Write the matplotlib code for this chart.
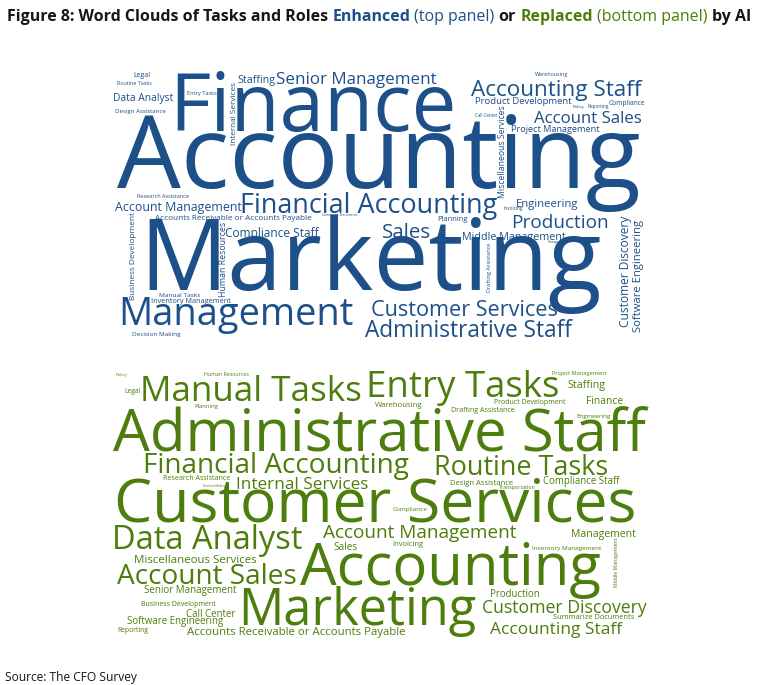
import matplotlib
matplotlib.use("Agg")
import matplotlib.pyplot as plt

BLUE = "#1d4f88"
GREEN = "#4d7d0c"
FONT = "Open Sans"

# word weights (relative size of each term in the cloud)
top_words = ["Accounting", "Marketing", "Finance", "Management", "Financial Accounting",
             "Accounting Staff", "Administrative Staff", "Customer Services", "Senior Management",
             "Production", "Sales", "Account Sales", "Account Management", "Customer Discovery",
             "Software Engineering", "Compliance Staff", "Data Analyst", "Engineering",
             "Middle Management", "Product Development", "Project Management", "Internal Services",
             "Staffing", "Miscellaneous Services", "Business Development", "Human Resources",
             "Accounts Receivable or Accounts Payable", "Manual Tasks", "Inventory Management",
             "Decision Making", "Research Assistance", "Legal", "Routine Tasks", "Design Assistance",
             "Entry Tasks", "Warehousing", "Compliance", "Policy", "Reporting", "Call Center",
             "Invoicing", "Planning", "Transportation", "Drafting Assistance", "Summarize Documents"]
top_weights = [101, 98, 80, 38, 27,
               22.5, 22.6, 21.6, 17,
               19, 20.5, 16.8, 12.4, 12,
               11.3, 11.9, 10.2, 11.2,
               10.8, 9.5, 9.1, 8.2,
               10.7, 8.7, 8.3, 8.8,
               8.1, 6.5, 7.3,
               6.4, 5.5, 7, 5.4, 6.2,
               5.7, 5.4, 6.7, 4.4, 4.8, 4.5,
               4.8, 7.5, 3.3, 5.5, 3.2]

bottom_words = ["Administrative Staff", "Customer Services", "Accounting", "Marketing",
                "Manual Tasks", "Entry Tasks", "Data Analyst", "Financial Accounting",
                "Routine Tasks", "Account Sales", "Account Management", "Internal Services",
                "Customer Discovery", "Accounting Staff", "Accounts Receivable or Accounts Payable",
                "Staffing", "Finance", "Compliance Staff", "Management", "Miscellaneous Services",
                "Senior Management", "Call Center", "Software Engineering", "Production", "Sales",
                "Business Development", "Reporting", "Summarize Documents", "Product Development",
                "Warehousing", "Drafting Assistance", "Engineering", "Project Management",
                "Design Assistance", "Transportation", "Compliance", "Invoicing",
                "Inventory Management", "Middle Management", "Research Assistance",
                "Decision Making", "Planning", "Legal", "Human Resources", "Policy"]
bottom_weights = [58.3, 60.6, 58, 50.5,
                  35, 36.6, 32.6, 27.9,
                  27, 28, 19, 17.1,
                  17.6, 17.4, 11.4,
                  10.7, 10.2, 9.6, 10.5, 11.5,
                  9.8, 9.7, 9.6, 9.7, 10,
                  7, 6.8, 7.5, 7,
                  7.8, 7.2, 6.3, 5.6,
                  7.7, 5.2, 6.4, 7.7,
                  6.4, 5.1, 7.1,
                  3.0, 5.9, 6.6, 5.2, 4.4]

# cloud layout: left x, baseline y (pixels from top), rotation
top_layout = {
    "Accounting": (117, 188, 0), "Marketing": (139, 290, 0), "Finance": (169, 131, 0),
    "Management": (118, 325, 0), "Financial Accounting": (240, 213, 0),
    "Accounting Staff": (471, 96, 0), "Administrative Staff": (365, 337, 0),
    "Customer Services": (371, 316, 0), "Senior Management": (276, 84, 0),
    "Production": (511, 228, 0), "Sales": (382, 238, 0), "Account Sales": (534, 123, 0),
    "Account Management": (115, 211, 0), "Customer Discovery": (629, 327, 90),
    "Software Engineering": (641, 332, 90), "Compliance Staff": (225, 237, 0),
    "Data Analyst": (113, 101, 0), "Engineering": (516, 207, 0),
    "Middle Management": (462, 240, 0), "Product Development": (475, 104, 0),
    "Project Management": (511, 132, 0), "Internal Services": (236, 145, 90),
    "Staffing": (237, 83, 0), "Miscellaneous Services": (505, 198, 90),
    "Business Development": (135, 300, 90), "Human Resources": (226, 297, 90),
    "Accounts Receivable or Accounts Payable": (155, 220, 0), "Manual Tasks": (159, 297, 0),
    "Inventory Management": (151, 303, 0), "Decision Making": (132, 336, 0),
    "Research Assistance": (137, 198, 0), "Legal": (133, 77, 0), "Routine Tasks": (117, 85, 0),
    "Design Assistance": (115, 113, 0), "Entry Tasks": (187, 95, 0),
    "Warehousing": (535, 76, 0), "Compliance": (609, 105, 0), "Policy": (573, 108, 0),
    "Reporting": (587, 108, 0), "Call Center": (475, 117, 0), "Invoicing": (503, 210, 0),
    "Planning": (437, 221, 0), "Transportation": (548, 243, 0),
    "Drafting Assistance": (491, 292, 90), "Summarize Documents": (322, 216, 0),
}
bottom_layout = {
    "Administrative Staff": (113, 451, 0), "Customer Services": (114, 522, 0),
    "Accounting": (300, 585, 0), "Marketing": (238, 625, 0), "Manual Tasks": (140, 401, 0),
    "Entry Tasks": (366, 397, 0), "Data Analyst": (112, 549, 0),
    "Financial Accounting": (143, 473, 0), "Routine Tasks": (434, 475, 0),
    "Account Sales": (117, 584, 0), "Account Management": (323, 538, 0),
    "Internal Services": (236, 489, 0), "Customer Discovery": (482, 613, 0),
    "Accounting Staff": (490, 634, 0), "Accounts Receivable or Accounts Payable": (187, 635, 0),
    "Staffing": (567, 388, 0), "Finance": (586, 404, 0), "Compliance Staff": (543, 484, 0),
    "Management": (571, 537, 0), "Miscellaneous Services": (134, 563, 0),
    "Senior Management": (144, 593, 0), "Call Center": (186, 617, 0),
    "Software Engineering": (127, 624, 0), "Production": (490, 597, 0), "Sales": (333, 550, 0),
    "Business Development": (141, 606, 0), "Reporting": (117, 632, 0),
    "Summarize Documents": (553, 619, 0), "Product Development": (494, 404, 0),
    "Warehousing": (375, 407, 0), "Drafting Assistance": (451, 412, 0),
    "Engineering": (576, 418, 0), "Project Management": (552, 375, 0),
    "Design Assistance": (450, 485, 0), "Transportation": (499, 489, 0),
    "Compliance": (393, 511, 0), "Invoicing": (392, 546, 0),
    "Inventory Management": (532, 550, 0), "Middle Management": (618, 587, 90),
    "Research Assistance": (163, 480, 0), "Decision Making": (203, 487, 0),
    "Planning": (194, 408, 0), "Legal": (124, 393, 0), "Human Resources": (204, 376, 0),
    "Policy": (116, 376, 0),
}

title_parts = [
    ("Figure 8: Word Clouds of Tasks and Roles", "#161616", "bold"),
    ("Enhanced", BLUE, "bold"),
    ("(top panel)", BLUE, "normal"),
    ("or", "#161616", "bold"),
    ("Replaced", GREEN, "bold"),
    ("(bottom panel)", GREEN, "normal"),
    ("by AI", "#161616", "bold"),
]

W, H = 761, 685
fig = plt.figure(figsize=(W / 100, H / 100), dpi=100)
ax = fig.add_axes([0, 0, 1, 1])
ax.set_xlim(0, W)
ax.set_ylim(H, 0)
ax.axis("off")

PX = 72 / 100  # pixel -> point


def draw_cloud(words, weights, layout, color):
    for w, s in zip(words, weights):
        x, y, rot = layout[w]
        ax.text(x, y, w, fontsize=s * PX, color=color, family=FONT,
                ha="left", va="baseline", rotation=rot, rotation_mode="anchor")


draw_cloud(top_words, top_weights, top_layout, BLUE)
draw_cloud(bottom_words, bottom_weights, bottom_layout, GREEN)

# title made of coloured pieces
fig.canvas.draw()
r = fig.canvas.get_renderer()
tsize = 16.0
x = 7
for txt, col, wt in title_parts:
    t = ax.text(x, 21, txt, fontsize=tsize * PX, color=col, fontweight=wt,
                family=FONT, ha="left", va="baseline")
    x += t.get_window_extent(renderer=r).width + 0.26 * tsize

ax.text(5, 681, "Source: The CFO Survey", fontsize=12 * PX, color="#161616",
        family=FONT, ha="left", va="baseline")

fig.savefig("out.png", dpi=100, facecolor="white")
